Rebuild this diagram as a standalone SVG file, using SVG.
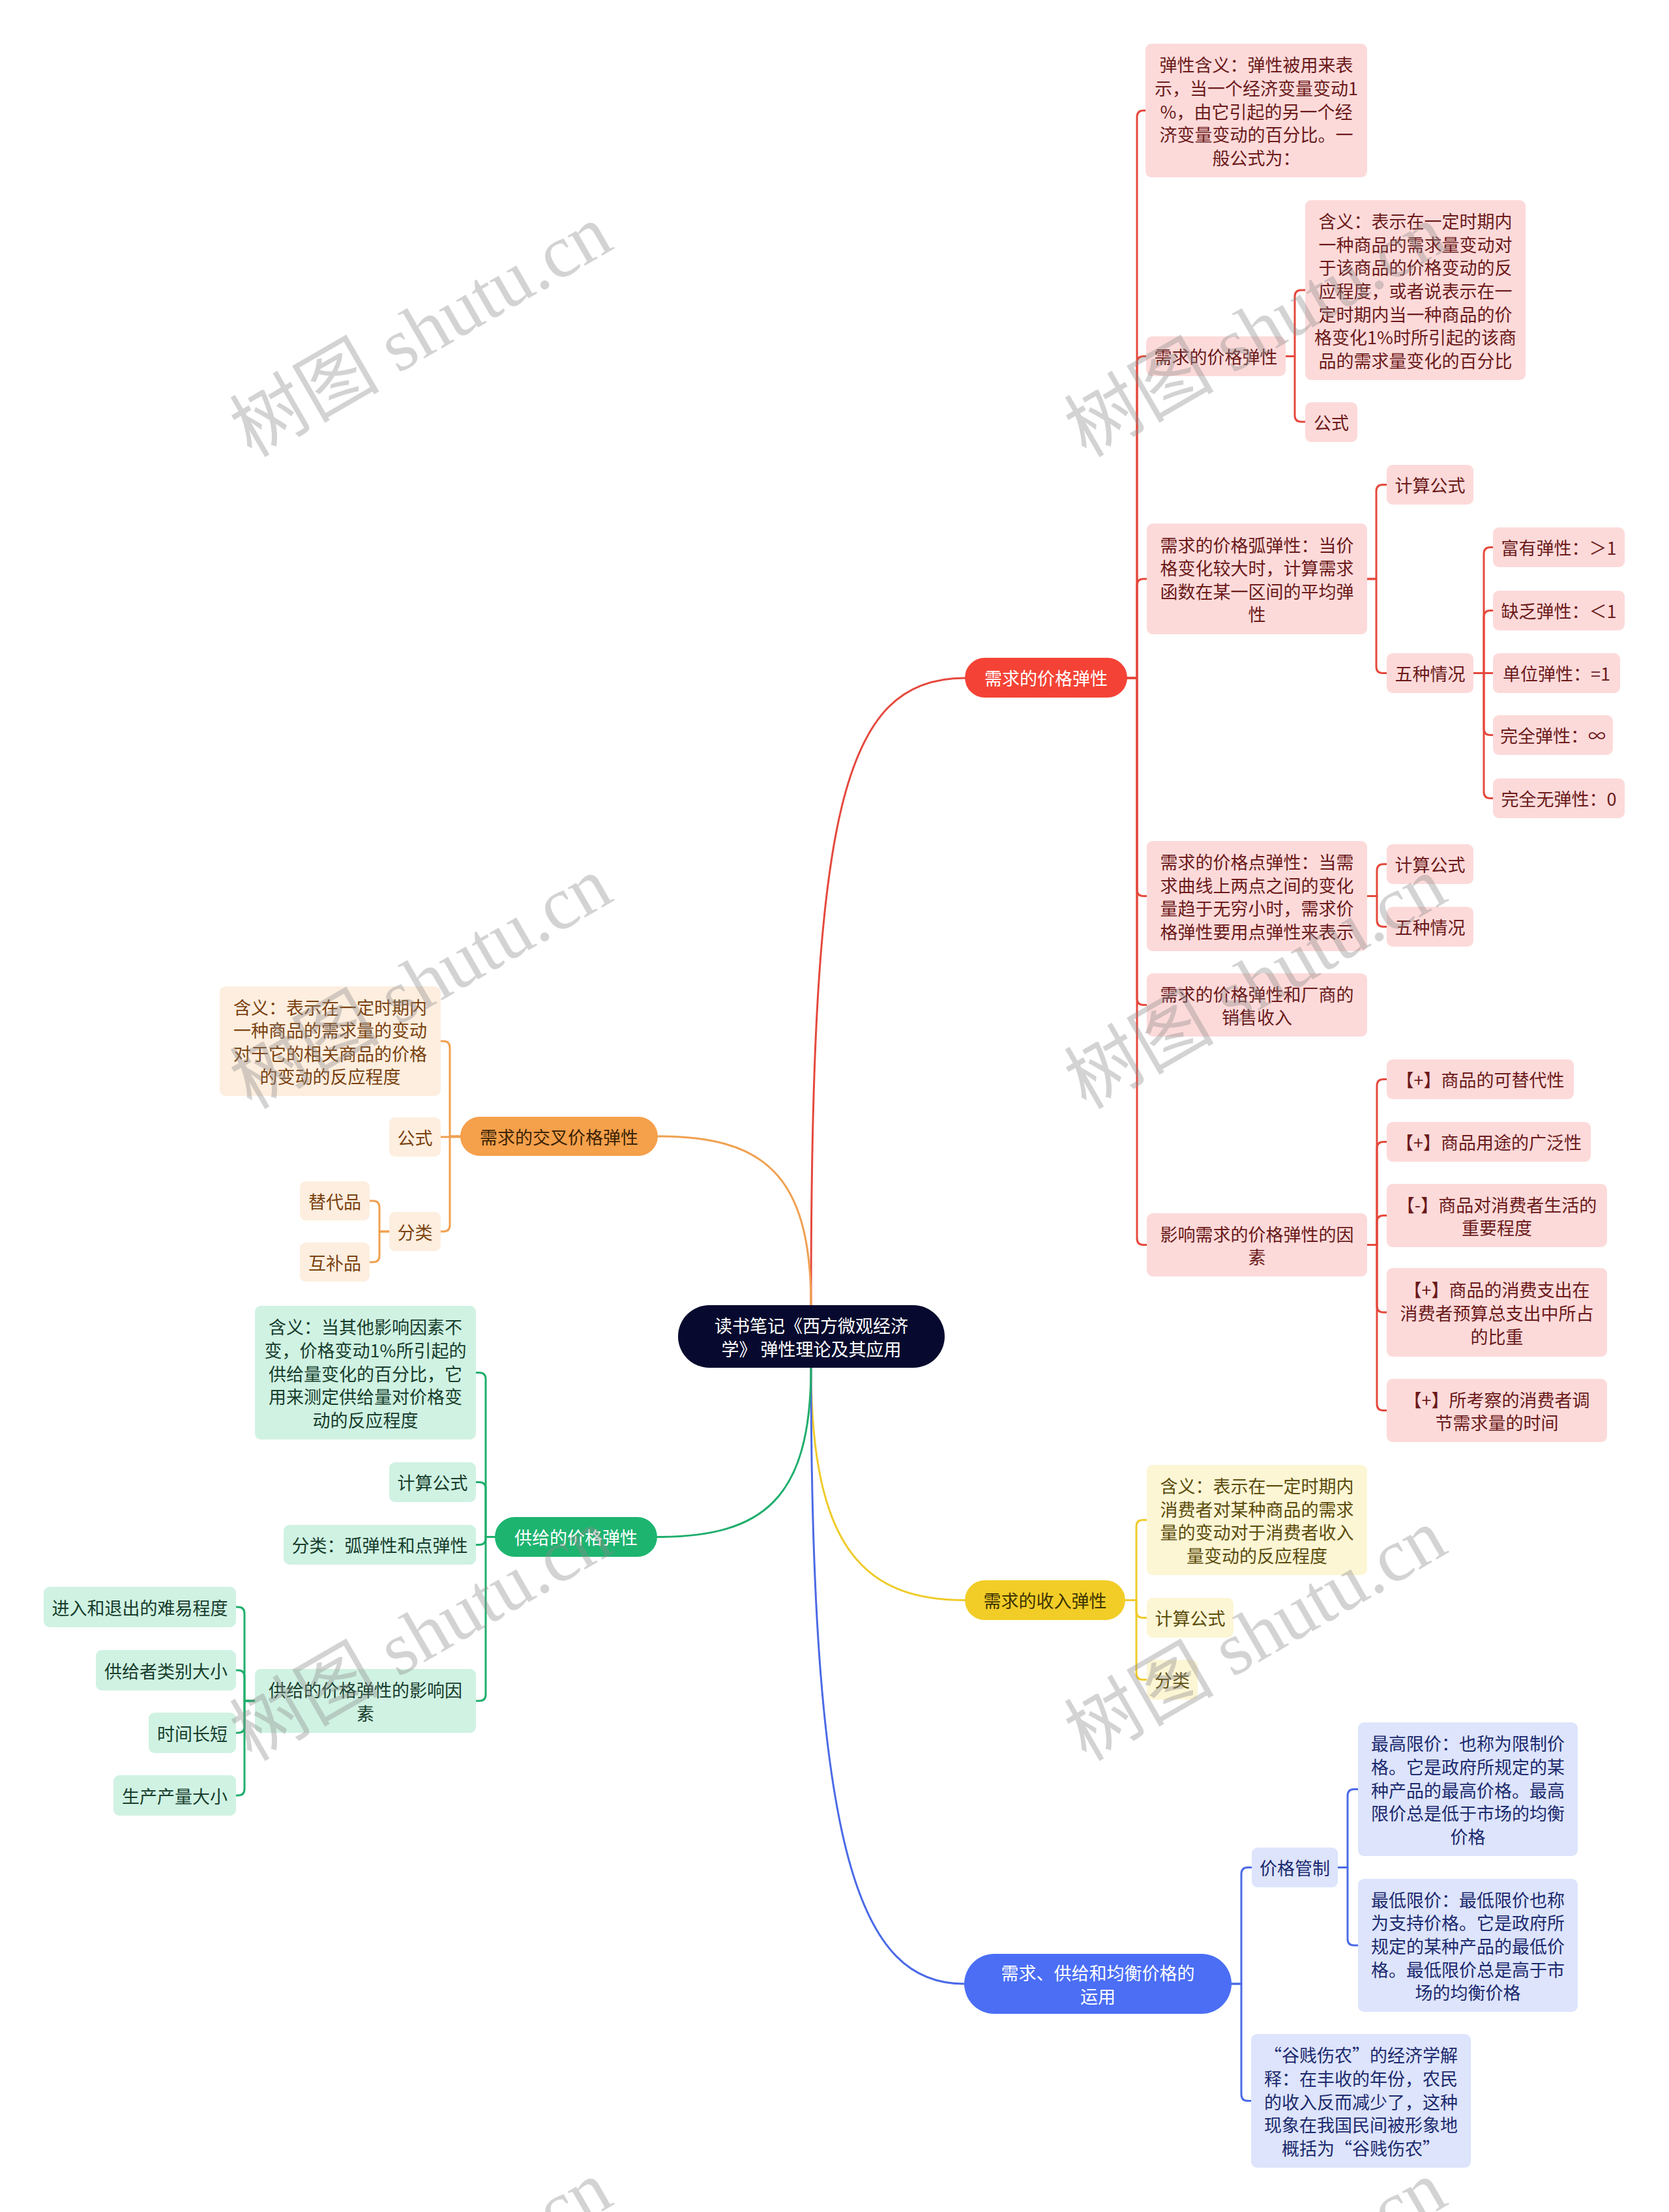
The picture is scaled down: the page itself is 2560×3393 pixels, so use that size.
<svg xmlns="http://www.w3.org/2000/svg" width="2560" height="3393" viewBox="0 0 2560 3393">
<style>
.t{font-family:"Noto Sans CJK SC","Noto Sans",sans-serif;font-size:27px;text-anchor:middle;dominant-baseline:central}
.c{fill:none;stroke-width:3;stroke-linecap:round;stroke-linejoin:round}
.cr{stroke:#e5493d}.co{stroke:#f0a050}.cg{stroke:#1fae6c}.cy{stroke:#f0cb2a}.cb{stroke:#4b6ae6}
.br{fill:#fddada}.tr{fill:#6b1a1a}
.bo{fill:#fdeedf}.to{fill:#7a4210}
.bg{fill:#d0f2e3}.tg{fill:#173d2c}
.by{fill:#fdf6d5}.ty{fill:#5b4c0c}
.bb{fill:#dde4fc}.tb{fill:#1c2a6e}
.w{fill:#ffffff}
.wm{font-family:"Liberation Serif","Noto Sans CJK SC",serif;font-size:115px;fill:#8c8c8c;fill-opacity:.38;text-anchor:middle;dominant-baseline:central}
</style>
<rect x="0" y="0" width="2560" height="3393" fill="#ffffff"/>
<g id="connectors">
<path class="c cr" d="M1244,2002 C1244,1250 1290,1040 1480,1040"/>
<path class="c cr" d="M1729,1040 H1744 V179.5 Q1744,169.5 1754,169.5 H1758"/>
<path class="c cr" d="M1729,1040 H1744 V556.5 Q1744,546.5 1754,546.5 H1758"/>
<path class="c cr" d="M1729,1040 H1744 V898 Q1744,888 1754,888 H1759"/>
<path class="c cr" d="M1729,1040 H1744 V1364.5 Q1744,1374.5 1754,1374.5 H1759"/>
<path class="c cr" d="M1729,1040 H1744 V1531.5 Q1744,1541.5 1754,1541.5 H1759"/>
<path class="c cr" d="M1729,1040 H1744 V1899.5 Q1744,1909.5 1754,1909.5 H1759"/>
<path class="c cr" d="M1972,546.5 H1986 V455 Q1986,445 1996,445 H2002"/>
<path class="c cr" d="M1972,546.5 H1986 V637 Q1986,647 1996,647 H2002"/>
<path class="c cr" d="M2097,888 H2111 V753.5 Q2111,743.5 2121,743.5 H2127"/>
<path class="c cr" d="M2097,888 H2111 V1022.5 Q2111,1032.5 2121,1032.5 H2127"/>
<path class="c cr" d="M2260,1032.5 H2276 V849.5 Q2276,839.5 2286,839.5 H2290"/>
<path class="c cr" d="M2260,1032.5 H2276 V946.5 Q2276,936.5 2286,936.5 H2290"/>
<path class="c cr" d="M2260,1032.5 H2290"/>
<path class="c cr" d="M2260,1032.5 H2276 V1117.5 Q2276,1127.5 2286,1127.5 H2290"/>
<path class="c cr" d="M2260,1032.5 H2276 V1214.5 Q2276,1224.5 2286,1224.5 H2290"/>
<path class="c cr" d="M2097,1374.5 H2112 V1335.5 Q2112,1325.5 2122,1325.5 H2127"/>
<path class="c cr" d="M2097,1374.5 H2112 V1411.5 Q2112,1421.5 2122,1421.5 H2127"/>
<path class="c cr" d="M2097,1909.5 H2112 V1665.5 Q2112,1655.5 2122,1655.5 H2127"/>
<path class="c cr" d="M2097,1909.5 H2112 V1761.5 Q2112,1751.5 2122,1751.5 H2127"/>
<path class="c cr" d="M2097,1909.5 H2112 V1874.5 Q2112,1864.5 2122,1864.5 H2127"/>
<path class="c cr" d="M2097,1909.5 H2112 V2003 Q2112,2013 2122,2013 H2127"/>
<path class="c cr" d="M2097,1909.5 H2112 V2153.5 Q2112,2163.5 2122,2163.5 H2127"/>
<path class="c cy" d="M1244,2097 C1244,2380 1330,2454.5 1480,2454.5"/>
<path class="c cy" d="M1726,2454.5 H1743 V2341.5 Q1743,2331.5 1753,2331.5 H1759"/>
<path class="c cy" d="M1726,2454.5 H1743 V2471.5 Q1743,2481.5 1753,2481.5 H1759"/>
<path class="c cy" d="M1726,2454.5 H1743 V2566.5 Q1743,2576.5 1753,2576.5 H1759"/>
<path class="c cb" d="M1244,2097 C1244,2850 1320,3043 1479,3043"/>
<path class="c cb" d="M1889,3043 H1904 V2874.5 Q1904,2864.5 1914,2864.5 H1920"/>
<path class="c cb" d="M1889,3043 H1904 V3212.5 Q1904,3222.5 1914,3222.5 H1919"/>
<path class="c cb" d="M2052,2864.5 H2067 V2754.5 Q2067,2744.5 2077,2744.5 H2083"/>
<path class="c cb" d="M2052,2864.5 H2067 V2974 Q2067,2984 2077,2984 H2083"/>
<path class="c co" d="M1244,2002 C1244,1800 1170,1743 1009,1743"/>
<path class="c co" d="M706,1743 H690 V1607 Q690,1597 680,1597 H676"/>
<path class="c co" d="M706,1744 H676"/>
<path class="c co" d="M706,1743 H690 V1879 Q690,1889 680,1889 H676"/>
<path class="c co" d="M597,1889 H582 V1852 Q582,1842 572,1842 H567"/>
<path class="c co" d="M597,1889 H582 V1926 Q582,1936 572,1936 H567"/>
<path class="c cg" d="M1244,2097 C1244,2300 1170,2357.5 1008,2357.5"/>
<path class="c cg" d="M759,2357.5 H745 V2115.5 Q745,2105.5 735,2105.5 H730"/>
<path class="c cg" d="M759,2357.5 H745 V2283.5 Q745,2273.5 735,2273.5 H730"/>
<path class="c cg" d="M759,2357.5 H745 V2359.5 Q745,2369.5 735,2369.5 H730"/>
<path class="c cg" d="M759,2357.5 H745 V2599 Q745,2609 735,2609 H730"/>
<path class="c cg" d="M391,2609 H375 V2475 Q375,2465 365,2465 H362"/>
<path class="c cg" d="M391,2609 H375 V2572 Q375,2562 365,2562 H362"/>
<path class="c cg" d="M391,2609 H375 V2648 Q375,2658 365,2658 H362"/>
<path class="c cg" d="M391,2609 H375 V2744 Q375,2754 365,2754 H362"/>
</g>
<g id="root"><rect x="1040" y="2002" width="409" height="96" rx="48" fill="#070a2e"/>
<text class="t w"><tspan x="1244.5" y="2032">读书笔记《西方微观经济</tspan><tspan x="1244.5" y="2068">学》 弹性理论及其应用</tspan></text></g>
<g id="n-red-main"><rect x="1480" y="1009" width="249" height="61" rx="30.5" fill="#f44336"/><text class="t w" x="1604.5" y="1039.5">需求的价格弹性</text></g>
<g id="n-r1"><rect class="br" x="1757" y="67" width="340" height="205" rx="9"/><text class="t tr"><tspan x="1927" y="98.3">弹性含义：弹性被用来表</tspan><tspan x="1927" y="133.9">示，当一个经济变量变动1</tspan><tspan x="1927" y="169.5">%，由它引起的另一个经</tspan><tspan x="1927" y="205.1">济变量变动的百分比。一</tspan><tspan x="1927" y="240.7">般公式为：</tspan></text></g>
<g id="n-r2"><rect class="br" x="1758" y="516" width="214" height="61" rx="9"/><text class="t tr" x="1865" y="546.5">需求的价格弹性</text></g>
<g id="n-r2a"><rect class="br" x="2002" y="307" width="338" height="276" rx="9"/><text class="t tr"><tspan x="2171" y="338.2">含义：表示在一定时期内</tspan><tspan x="2171" y="373.8">一种商品的需求量变动对</tspan><tspan x="2171" y="409.4">于该商品的价格变动的反</tspan><tspan x="2171" y="445">应程度，或者说表示在一</tspan><tspan x="2171" y="480.6">定时期内当一种商品的价</tspan><tspan x="2171" y="516.2">格变化1%时所引起的该商</tspan><tspan x="2171" y="551.8">品的需求量变化的百分比</tspan></text></g>
<g id="n-r2b"><rect class="br" x="2002" y="617" width="80" height="61" rx="9"/><text class="t tr" x="2042" y="647.5">公式</text></g>
<g id="n-r3"><rect class="br" x="1759" y="803" width="338" height="170" rx="9"/><text class="t tr"><tspan x="1928" y="834.6">需求的价格弧弹性：当价</tspan><tspan x="1928" y="870.2">格变化较大时，计算需求</tspan><tspan x="1928" y="905.8">函数在某一区间的平均弹</tspan><tspan x="1928" y="941.4">性</tspan></text></g>
<g id="n-r3a"><rect class="br" x="2127" y="713" width="133" height="61" rx="9"/><text class="t tr" x="2193.5" y="743.5">计算公式</text></g>
<g id="n-r3b"><rect class="br" x="2127" y="1002" width="133" height="61" rx="9"/><text class="t tr" x="2193.5" y="1032.5">五种情况</text></g>
<g id="n-r3b1"><rect class="br" x="2290" y="809" width="202" height="61" rx="9"/><text class="t tr" x="2391" y="839.5">富有弹性：＞1</text></g>
<g id="n-r3b2"><rect class="br" x="2290" y="906" width="202" height="61" rx="9"/><text class="t tr" x="2391" y="936.5">缺乏弹性：＜1</text></g>
<g id="n-r3b3"><rect class="br" x="2290" y="1002" width="195" height="61" rx="9"/><text class="t tr" x="2387.5" y="1032.5">单位弹性：=1</text></g>
<g id="n-r3b4"><rect class="br" x="2290" y="1097" width="184" height="61" rx="9"/><text class="t tr" x="2382" y="1127.5">完全弹性：∞</text></g>
<g id="n-r3b5"><rect class="br" x="2290" y="1194" width="202" height="61" rx="9"/><text class="t tr" x="2391" y="1224.5">完全无弹性：0</text></g>
<g id="n-r4"><rect class="br" x="1759" y="1290" width="338" height="169" rx="9"/><text class="t tr"><tspan x="1928" y="1321.1">需求的价格点弹性：当需</tspan><tspan x="1928" y="1356.7">求曲线上两点之间的变化</tspan><tspan x="1928" y="1392.3">量趋于无穷小时，需求价</tspan><tspan x="1928" y="1427.9">格弹性要用点弹性来表示</tspan></text></g>
<g id="n-r4a"><rect class="br" x="2127" y="1295" width="133" height="61" rx="9"/><text class="t tr" x="2193.5" y="1325.5">计算公式</text></g>
<g id="n-r4b"><rect class="br" x="2127" y="1391" width="133" height="61" rx="9"/><text class="t tr" x="2193.5" y="1421.5">五种情况</text></g>
<g id="n-r5"><rect class="br" x="1759" y="1493" width="338" height="97" rx="9"/><text class="t tr"><tspan x="1928" y="1523.7">需求的价格弹性和厂商的</tspan><tspan x="1928" y="1559.3">销售收入</tspan></text></g>
<g id="n-r6"><rect class="br" x="1759" y="1861" width="338" height="97" rx="9"/><text class="t tr"><tspan x="1928" y="1891.7">影响需求的价格弹性的因</tspan><tspan x="1928" y="1927.3">素</tspan></text></g>
<g id="n-r6a"><rect class="br" x="2127" y="1625" width="287" height="61" rx="9"/><text class="t tr" x="2270.5" y="1655.5">【+】商品的可替代性</text></g>
<g id="n-r6b"><rect class="br" x="2127" y="1721" width="313" height="61" rx="9"/><text class="t tr" x="2283.5" y="1751.5">【+】商品用途的广泛性</text></g>
<g id="n-r6c"><rect class="br" x="2127" y="1816" width="338" height="97" rx="9"/><text class="t tr"><tspan x="2296" y="1846.7">【-】商品对消费者生活的</tspan><tspan x="2296" y="1882.3">重要程度</tspan></text></g>
<g id="n-r6d"><rect class="br" x="2127" y="1945" width="338" height="136" rx="9"/><text class="t tr"><tspan x="2296" y="1977.4">【+】商品的消费支出在</tspan><tspan x="2296" y="2013">消费者预算总支出中所占</tspan><tspan x="2296" y="2048.6">的比重</tspan></text></g>
<g id="n-r6e"><rect class="br" x="2127" y="2115" width="338" height="97" rx="9"/><text class="t tr"><tspan x="2296" y="2145.7">【+】所考察的消费者调</tspan><tspan x="2296" y="2181.3">节需求量的时间</tspan></text></g>
<g id="n-yellow-main"><rect x="1480" y="2424" width="246" height="61" rx="30.5" fill="#f2cd27"/><text class="t" x="1603" y="2454.5" fill="#3d3300">需求的收入弹性</text></g>
<g id="n-y1"><rect class="by" x="1759" y="2247" width="338" height="169" rx="9"/><text class="t ty"><tspan x="1928" y="2278.1">含义：表示在一定时期内</tspan><tspan x="1928" y="2313.7">消费者对某种商品的需求</tspan><tspan x="1928" y="2349.3">量的变动对于消费者收入</tspan><tspan x="1928" y="2384.9">量变动的反应程度</tspan></text></g>
<g id="n-y2"><rect class="by" x="1759" y="2451" width="133" height="61" rx="9"/><text class="t ty" x="1825.5" y="2481.5">计算公式</text></g>
<g id="n-y3"><rect class="by" x="1759" y="2546" width="78" height="61" rx="9"/><text class="t ty" x="1798" y="2576.5">分类</text></g>
<g id="n-blue-main"><rect x="1479" y="2997" width="410" height="92" rx="46" fill="#4b6ef5"/><text class="t w"><tspan x="1684" y="3025.2">需求、供给和均衡价格的</tspan><tspan x="1684" y="3060.8">运用</tspan></text></g>
<g id="n-b1"><rect class="bb" x="1920" y="2834" width="132" height="61" rx="9"/><text class="t tb" x="1986" y="2864.5">价格管制</text></g>
<g id="n-b1a"><rect class="bb" x="2083" y="2642" width="337" height="205" rx="9"/><text class="t tb"><tspan x="2251.5" y="2673.3">最高限价：也称为限制价</tspan><tspan x="2251.5" y="2708.9">格。它是政府所规定的某</tspan><tspan x="2251.5" y="2744.5">种产品的最高价格。最高</tspan><tspan x="2251.5" y="2780.1">限价总是低于市场的均衡</tspan><tspan x="2251.5" y="2815.7">价格</tspan></text></g>
<g id="n-b1b"><rect class="bb" x="2083" y="2882" width="337" height="204" rx="9"/><text class="t tb"><tspan x="2251.5" y="2912.8">最低限价：最低限价也称</tspan><tspan x="2251.5" y="2948.4">为支持价格。它是政府所</tspan><tspan x="2251.5" y="2984">规定的某种产品的最低价</tspan><tspan x="2251.5" y="3019.6">格。最低限价总是高于市</tspan><tspan x="2251.5" y="3055.2">场的均衡价格</tspan></text></g>
<g id="n-b2"><rect class="bb" x="1919" y="3120" width="337" height="205" rx="9"/><text class="t tb"><tspan x="2087.5" y="3151.3">“谷贱伤农”的经济学解</tspan><tspan x="2087.5" y="3186.9">释：在丰收的年份，农民</tspan><tspan x="2087.5" y="3222.5">的收入反而减少了，这种</tspan><tspan x="2087.5" y="3258.1">现象在我国民间被形象地</tspan><tspan x="2087.5" y="3293.7">概括为“谷贱伤农”</tspan></text></g>
<g id="n-orange-main"><rect x="706" y="1713" width="303" height="60" rx="30" fill="#f5a04b"/><text class="t" x="857.5" y="1743" fill="#3d2406">需求的交叉价格弹性</text></g>
<g id="n-o1"><rect class="bo" x="337" y="1513" width="339" height="168" rx="9"/><text class="t to"><tspan x="506.5" y="1543.6">含义：表示在一定时期内</tspan><tspan x="506.5" y="1579.2">一种商品的需求量的变动</tspan><tspan x="506.5" y="1614.8">对于它的相关商品的价格</tspan><tspan x="506.5" y="1650.4">的变动的反应程度</tspan></text></g>
<g id="n-o2"><rect class="bo" x="597" y="1714" width="79" height="60" rx="9"/><text class="t to" x="636.5" y="1744">公式</text></g>
<g id="n-o3"><rect class="bo" x="597" y="1859" width="79" height="60" rx="9"/><text class="t to" x="636.5" y="1889">分类</text></g>
<g id="n-o3a"><rect class="bo" x="460" y="1812" width="107" height="60" rx="9"/><text class="t to" x="513.5" y="1842">替代品</text></g>
<g id="n-o3b"><rect class="bo" x="460" y="1906" width="107" height="60" rx="9"/><text class="t to" x="513.5" y="1936">互补品</text></g>
<g id="n-green-main"><rect x="759" y="2327" width="249" height="61" rx="30.5" fill="#1db470"/><text class="t w" x="883.5" y="2357.5">供给的价格弹性</text></g>
<g id="n-g1"><rect class="bg" x="391" y="2003" width="339" height="205" rx="9"/><text class="t tg"><tspan x="560.5" y="2034.3">含义：当其他影响因素不</tspan><tspan x="560.5" y="2069.9">变，价格变动1%所引起的</tspan><tspan x="560.5" y="2105.5">供给量变化的百分比，它</tspan><tspan x="560.5" y="2141.1">用来测定供给量对价格变</tspan><tspan x="560.5" y="2176.7">动的反应程度</tspan></text></g>
<g id="n-g2"><rect class="bg" x="597" y="2243" width="133" height="61" rx="9"/><text class="t tg" x="663.5" y="2273.5">计算公式</text></g>
<g id="n-g3"><rect class="bg" x="435" y="2339" width="295" height="61" rx="9"/><text class="t tg" x="582.5" y="2369.5">分类：弧弹性和点弹性</text></g>
<g id="n-g4"><rect class="bg" x="391" y="2560" width="339" height="98" rx="9"/><text class="t tg"><tspan x="560.5" y="2591.2">供给的价格弹性的影响因</tspan><tspan x="560.5" y="2626.8">素</tspan></text></g>
<g id="n-g4a"><rect class="bg" x="67" y="2434" width="295" height="62" rx="9"/><text class="t tg" x="214.5" y="2465">进入和退出的难易程度</text></g>
<g id="n-g4b"><rect class="bg" x="147" y="2531" width="215" height="62" rx="9"/><text class="t tg" x="254.5" y="2562">供给者类别大小</text></g>
<g id="n-g4c"><rect class="bg" x="228" y="2627" width="134" height="62" rx="9"/><text class="t tg" x="295" y="2658">时间长短</text></g>
<g id="n-g4d"><rect class="bg" x="174" y="2723" width="188" height="62" rx="9"/><text class="t tg" x="268" y="2754">生产产量大小</text></g>
<g id="watermarks">
<text class="wm" x="646" y="508" transform="rotate(-30 646 508)">树图 shutu.cn</text>
<text class="wm" x="1926" y="508" transform="rotate(-30 1926 508)">树图 shutu.cn</text>
<text class="wm" x="646" y="1508" transform="rotate(-30 646 1508)">树图 shutu.cn</text>
<text class="wm" x="1926" y="1508" transform="rotate(-30 1926 1508)">树图 shutu.cn</text>
<text class="wm" x="646" y="2508" transform="rotate(-30 646 2508)">树图 shutu.cn</text>
<text class="wm" x="1926" y="2508" transform="rotate(-30 1926 2508)">树图 shutu.cn</text>
<text class="wm" x="646" y="3508" transform="rotate(-30 646 3508)">树图 shutu.cn</text>
<text class="wm" x="1926" y="3508" transform="rotate(-30 1926 3508)">树图 shutu.cn</text>
</g>
</svg>
